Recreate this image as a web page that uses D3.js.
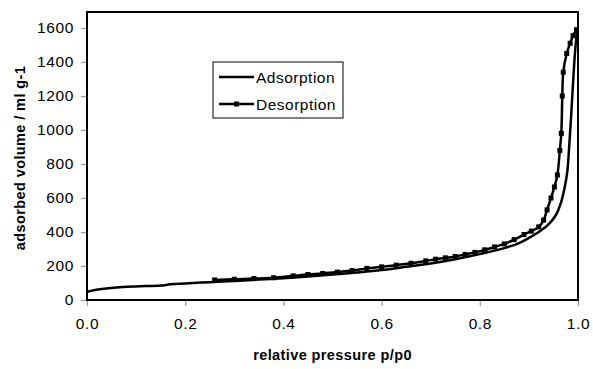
<!DOCTYPE html>
<html>
<head>
<meta charset="utf-8">
<script src="https://cdn.jsdelivr.net/npm/d3@7"></script>
<style>
  body { margin: 0; background: #fff; }
  text { font-family: "Liberation Sans", Arial, sans-serif; }
</style>
</head>
<body>
<script>
// adsorption branch
var adsP = [0, 0.01, 0.03, 0.06, 0.1, 0.15, 0.17, 0.2, 0.25, 0.3, 0.35, 0.4, 0.45, 0.5, 0.55, 0.6,
  0.65, 0.7, 0.75, 0.8, 0.85, 0.88, 0.9, 0.92, 0.94, 0.955, 0.965, 0.972, 0.978, 0.982, 0.986,
  0.99, 0.994, 0.998];
var adsV = [47, 55, 65, 74, 80, 85, 92, 97, 105, 112, 120, 128, 138, 150, 162, 176,
  195, 215, 240, 270, 305, 335, 365, 400, 445, 500, 570, 650, 750, 900, 1080,
  1280, 1460, 1580];

// desorption branch
var desP = [0.26, 0.30, 0.34, 0.38, 0.42, 0.45, 0.48, 0.51, 0.54, 0.57, 0.60, 0.63, 0.66, 0.69,
  0.71, 0.73, 0.75, 0.77, 0.79, 0.81, 0.83, 0.85, 0.87, 0.89, 0.905, 0.92, 0.93, 0.937, 0.945,
  0.952, 0.958, 0.963, 0.966, 0.968, 0.970, 0.977, 0.984, 0.99, 0.997];
var desV = [118, 122, 126, 131, 142, 150, 156, 164, 173, 186, 195, 205, 216, 230,
  240, 248, 256, 268, 280, 295, 312, 330, 355, 385, 405, 430, 470, 530, 600,
  665, 735, 880, 980, 1200, 1340, 1450, 1510, 1555, 1590];

var xTicks = [0, 0.2, 0.4, 0.6, 0.8, 1.0];
var yTicks = [0, 200, 400, 600, 800, 1000, 1200, 1400, 1600];
var seriesNames = ["Adsorption", "Desorption"];

var margin = {top: 12, left: 87, right: 15, bottom: 69};
var svgWidth = 593, svgHeight = 369;
var width = svgWidth - margin.left - margin.right;
var height = svgHeight - margin.top - margin.bottom;

var svg = d3.select("body").append("svg")
    .attr("width", svgWidth)
    .attr("height", svgHeight);

var g = svg.append("g")
    .attr("transform", "translate(" + margin.left + "," + margin.top + ")");

var x = d3.scaleLinear().domain([0, 1]).range([0, width]);
var y = d3.scaleLinear().domain([0, 1694]).range([height, 0]);

var xAxis = d3.axisBottom(x).tickValues(xTicks).tickFormat(d3.format(".1f"))
    .tickSizeOuter(0).tickSizeInner(6).tickPadding(12);
var yAxis = d3.axisLeft(y).tickValues(yTicks).tickFormat(d3.format("d"))
    .tickSizeOuter(0).tickSizeInner(6).tickPadding(7);

var gx = g.append("g").attr("transform", "translate(0," + height + ")").call(xAxis);
var gy = g.append("g").call(yAxis);

[gx, gy].forEach(function(a) {
  a.select(".domain").remove();
  a.selectAll(".tick line").attr("stroke", "#999").attr("stroke-width", 1.2);
  a.selectAll(".tick text").attr("font-size", 15.5).attr("fill", "#000")
      .attr("letter-spacing", 0.6);
});

// plot frame
g.append("rect")
    .attr("x", 0).attr("y", 0)
    .attr("width", width).attr("height", height)
    .attr("fill", "none")
    .attr("stroke", "#000")
    .attr("stroke-width", 2);

var ads = adsP.map(function(p, i) { return [p, adsV[i]]; });
var des = desP.map(function(p, i) { return [p, desV[i]]; });

var line = d3.line()
    .x(function(d) { return x(d[0]); })
    .y(function(d) { return y(d[1]); })
    .curve(d3.curveCatmullRom.alpha(0.5));

g.append("path").datum(ads)
    .attr("d", line)
    .attr("fill", "none")
    .attr("stroke", "#000")
    .attr("stroke-width", 2.5);

g.append("path").datum(des)
    .attr("d", line)
    .attr("fill", "none")
    .attr("stroke", "#000")
    .attr("stroke-width", 2.5);

g.selectAll("rect.mark").data(des).enter()
    .append("rect")
    .attr("class", "mark")
    .attr("x", function(d) { return x(d[0]) - 2.5; })
    .attr("y", function(d) { return y(d[1]) - 2.5; })
    .attr("width", 5).attr("height", 5)
    .attr("fill", "#000");

// legend
var legend = svg.append("g").attr("transform", "translate(213,62)");
legend.append("rect")
    .attr("width", 130).attr("height", 56)
    .attr("fill", "#fff")
    .attr("stroke", "#000")
    .attr("stroke-width", 1);

seriesNames.forEach(function(name, i) {
  var ly = 15 + i * 27;
  legend.append("line")
      .attr("x1", 6).attr("x2", 41)
      .attr("y1", ly).attr("y2", ly)
      .attr("stroke", "#000").attr("stroke-width", 2.5);
  if (i === 1) {
    legend.append("rect")
        .attr("x", 21).attr("y", ly - 2.5)
        .attr("width", 5).attr("height", 5)
        .attr("fill", "#000");
  }
  legend.append("text")
      .attr("x", 43).attr("y", ly + 5.5)
      .attr("font-size", 15.5)
      .attr("letter-spacing", 0.5)
      .text(name);
});

// axis titles
svg.append("text")
    .attr("x", margin.left + width / 2)
    .attr("y", 360)
    .attr("text-anchor", "middle")
    .attr("font-size", 14.5)
    .attr("font-weight", "bold")
    .attr("letter-spacing", 0.4)
    .text("relative pressure p/p0");

svg.append("text")
    .attr("transform", "translate(25," + 158 + ") rotate(-90)")
    .attr("text-anchor", "middle")
    .attr("font-size", 14.5)
    .attr("font-weight", "bold")
    .attr("letter-spacing", 0.4)
    .text("adsorbed volume / ml g-1");
</script>
</body>
</html>
